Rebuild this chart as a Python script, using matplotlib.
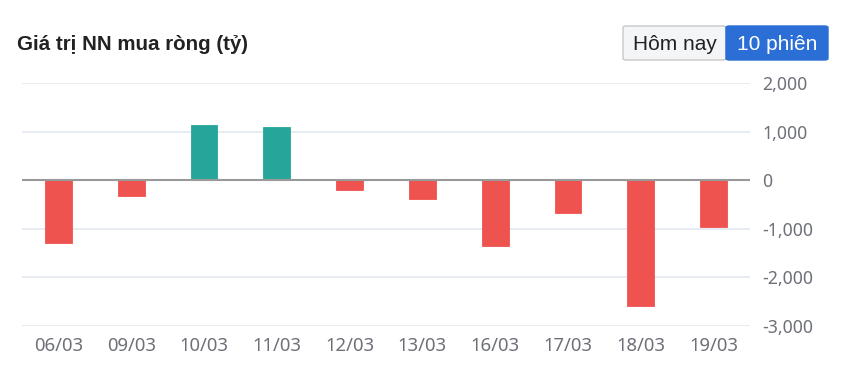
import matplotlib
matplotlib.use("Agg")
import matplotlib.pyplot as plt
import matplotlib.ticker as mticker
from matplotlib.patches import FancyBboxPatch

# Data
dates = ["06/03", "09/03", "10/03", "11/03", "12/03",
         "13/03", "16/03", "17/03", "18/03", "19/03"]
net_buy = [-1295, -335, 1130, 1085, -205, -390, -1355, -675, -2590, -970]
y_ticks = [-3000, -2000, -1000, 0, 1000, 2000]

title = "Giá trị NN mua ròng (tỷ)"
btn_labels = ["Hôm nay", "10 phiên"]

UP = "#26a69a"
DOWN = "#ef5350"
TICK_COLOR = "#6e7079"
GRID_COLOR = "#e3e7f0"

plt.rcParams["font.family"] = ["Liberation Sans", "DejaVu Sans"]

fig = plt.figure(figsize=(8.5, 3.72), dpi=100)
ax = fig.add_axes([22 / 850, 1 - 326 / 372, 728 / 850, 243 / 372])

x = range(len(dates))
colors = [UP if v >= 0 else DOWN for v in net_buy]
ax.bar(x, net_buy, width=0.37, color=colors, edgecolor=colors,
       linewidth=0.6, zorder=3)

ax.set_xlim(-0.5, len(dates) - 0.5)
ax.set_ylim(y_ticks[0], y_ticks[-1])
ax.set_yticks(y_ticks)
ax.yaxis.set_major_formatter(mticker.FuncFormatter(lambda v, p: f"{int(v):,}"))
ax.yaxis.tick_right()
ax.set_xticks(list(x))
ax.set_xticklabels(dates)

ax.grid(True, axis="y", color=GRID_COLOR, linewidth=1.2, zorder=0)
ax.axhline(0, color="#999999", linewidth=1.5, zorder=4)
for s in ax.spines.values():
    s.set_visible(False)
ax.tick_params(axis="both", length=0, labelcolor=TICK_COLOR,
               labelfontfamily="Noto Sans")
ax.tick_params(axis="y", pad=9, labelsize=12.7)
ax.tick_params(axis="x", pad=8, labelsize=13.3)

# Title
fig.text(17 / 850, 1 - 44 / 372, title, fontsize=14.8, fontweight="bold",
         color="#222222", va="center", ha="left")

# Toggle buttons
bx0, bmid, bx1 = 623 / 850, 726 / 850, 828 / 850
by0, by1 = 1 - 60 / 372, 1 - 26 / 372
left_btn = FancyBboxPatch((bx0, by0), bmid - bx0, by1 - by0,
                          boxstyle="round,pad=0,rounding_size=0.004",
                          transform=fig.transFigure, facecolor="#f4f5f7",
                          edgecolor="#c8c8c8", linewidth=1)
right_btn = FancyBboxPatch((bmid, by0), bx1 - bmid, by1 - by0,
                           boxstyle="round,pad=0,rounding_size=0.004",
                           transform=fig.transFigure, facecolor="#2b6fd6",
                           edgecolor="#2b6fd6", linewidth=1)
fig.patches.extend([left_btn, right_btn])
fig.text((bx0 + bmid) / 2, (by0 + by1) / 2 - 0.003, btn_labels[0], fontsize=15,
         color="#222222", ha="center", va="center")
fig.text((bmid + bx1) / 2, (by0 + by1) / 2 - 0.003, btn_labels[1], fontsize=15,
         color="white", ha="center", va="center")

fig.savefig("out.png", dpi=100, facecolor="white")
